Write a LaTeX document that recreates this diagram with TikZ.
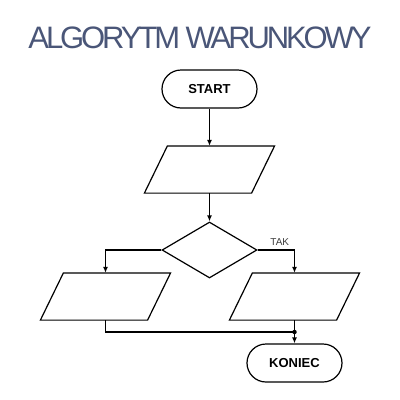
\documentclass[tikz,border=0pt]{standalone}
\usepackage{fontspec}
\setmainfont{Liberation Sans}
\usetikzlibrary{shapes.geometric,arrows.meta}
\definecolor{titleblue}{RGB}{74,86,120}
\definecolor{labelgray}{RGB}{60,60,60}
\newcommand\drawpara[1]{\draw ([xshift=11.5pt]#1.north west) -- ([xshift=11.5pt]#1.north east) -- ([xshift=-11.5pt]#1.south east) -- ([xshift=-11.5pt]#1.south west) -- cycle;}
\begin{document}
\begin{tikzpicture}[x=1pt,y=-1pt,
  line width=1.2pt,
  term/.style={draw,rounded corners=19pt,minimum width=95pt,minimum height=38pt,inner sep=0pt,font=\fontsize{13}{15}\selectfont\bfseries},
  io/.style={rectangle,minimum width=106pt,minimum height=46pt,inner sep=0pt},
  decision/.style={draw,diamond,minimum width=95pt,minimum height=56pt,inner sep=0pt,aspect=1.7},
  flow/.style={-{Latex[length=6pt,width=5pt]}},
  joindot/.style={circle,fill,inner sep=0pt,minimum size=4.5pt}]
\useasboundingbox (0,0) rectangle (400,400);
\node[text=titleblue,font=\fontsize{31}{34}\selectfont\addfontfeature{LetterSpace=-10}] (title) at (200,38) {ALGORYTM WARUNKOWY};
\node[term] (start) at (209.5,89) {START};
\node[io] (in) at (209.5,169.5) {};
\node[decision] (dec) at (209.5,250) {};
\node[io] (left) at (105.5,296.5) {};
\node[io] (right) at (294.5,296.5) {};
\node[joindot] (dot) at (294.5,332) {};
\node[term] (end) at (294.5,363) {KONIEC};
\drawpara{in}
\drawpara{left}
\drawpara{right}
\draw[flow] (start) -- (in);
\draw[flow] (in) -- (dec);
\draw[flow] (dec.west) -| (left.north);
\draw[flow] (dec.east) -| node[pos=0.3,above,text=labelgray,font=\fontsize{10}{12}\selectfont,yshift=1pt] (tak) {TAK} (right.north);
\draw (left.south) |- (dot.center);
\draw (right.south) -- (dot.center);
\draw[flow] (dot.center) -- (end.north);
\end{tikzpicture}
\end{document}
